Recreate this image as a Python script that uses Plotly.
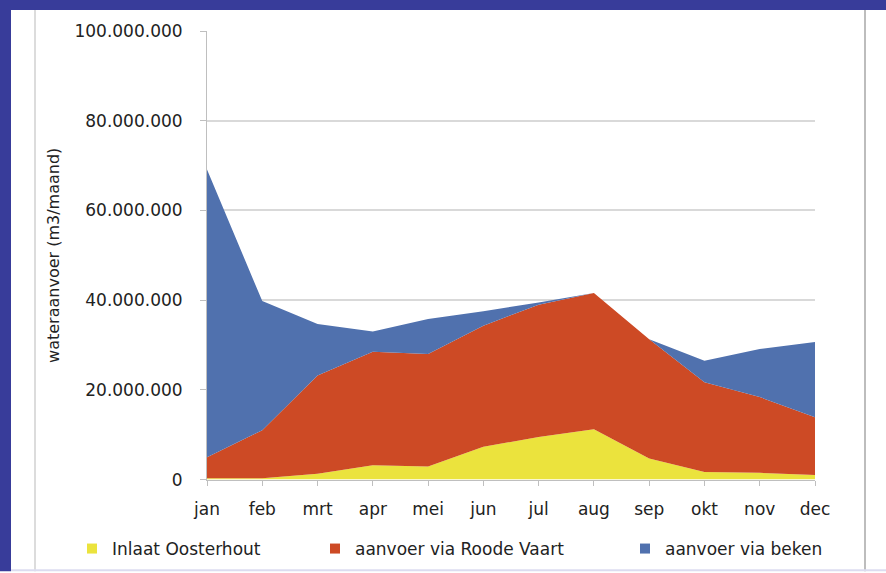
import plotly.graph_objects as go

months = ["jan", "feb", "mrt", "apr", "mei", "jun", "jul", "aug", "sep", "okt", "nov", "dec"]
inlaat_oosterhout = [300000, 300000, 1300000, 3200000, 2900000, 7300000, 9500000, 11200000, 4700000, 1700000, 1500000, 1000000]
roode_vaart = [4700000, 10700000, 21900000, 25300000, 25100000, 27000000, 29500000, 30400000, 26600000, 20000000, 16900000, 12900000]
beken = [64100000, 28800000, 11500000, 4500000, 7800000, 3200000, 500000, 0, 0, 4800000, 10700000, 16800000]
series_names = ["Inlaat Oosterhout", "aanvoer via Roode Vaart", "aanvoer via beken"]
y_ticks = [0, 20000000, 40000000, 60000000, 80000000, 100000000]

colors = ["#ebe33d", "#cd4a25", "#5071ae"]
W, H = 886, 573
ML, MR, MT, MB = 207, 71, 31, 92
PW, PH = W - ML - MR, H - MT - MB


def px(x):
    return (x - ML) / PW


def py(y):
    return (H - MB - y) / PH


fig = go.Figure()
for name, vals, col in zip(series_names, [inlaat_oosterhout, roode_vaart, beken], colors):
    fig.add_trace(go.Scatter(
        x=months, y=vals, name=name, stackgroup="one", mode="none",
        fillcolor=col, line=dict(width=0), showlegend=False,
    ))

legend_ids = ["legend", "legend2", "legend3"]
for name, col, lid in zip(series_names, colors, legend_ids):
    fig.add_trace(go.Scatter(
        x=[None], y=[None], name=name, mode="markers",
        marker=dict(symbol="square", size=10, color=col), legend=lid, showlegend=True,
    ))

font = dict(family="DejaVu Sans", size=17, color="#222222")
leg_common = dict(orientation="h", yanchor="middle", xanchor="left", font=font,
                  bgcolor="rgba(0,0,0,0)", itemwidth=30, xref="container", yref="container")
leg_y = (H - 549) / H

shapes = [
    # blue frame
    dict(type="rect", xref="paper", yref="paper", x0=px(0), x1=px(W), y0=py(0), y1=py(10),
         fillcolor="#383c9a", line=dict(width=0), layer="above"),
    dict(type="rect", xref="paper", yref="paper", x0=px(0), x1=px(11), y0=py(0), y1=py(H),
         fillcolor="#383c9a", line=dict(width=0), layer="above"),
    # chart border lines
    dict(type="line", xref="paper", yref="paper", x0=px(35), x1=px(35), y0=py(10), y1=py(H),
         line=dict(color="#d0d0d0", width=1.5)),
    dict(type="line", xref="paper", yref="paper", x0=px(865), x1=px(865), y0=py(10), y1=py(H),
         line=dict(color="#bdbdbd", width=2)),
    dict(type="line", xref="paper", yref="paper", x0=px(11), x1=px(W), y0=py(572), y1=py(572),
         line=dict(color="#dcdcf0", width=2)),
]

fig.update_layout(
    width=W, height=H, autosize=False,
    margin=dict(l=ML, r=MR, t=MT, b=MB),
    paper_bgcolor="white", plot_bgcolor="white",
    separators=",.",
    font=font,
    xaxis=dict(type="category", range=[0, 11], showgrid=False, showline=True,
               linecolor="#bfbfbf", linewidth=1, ticks="outside", ticklen=5,
               tickcolor="#bfbfbf", ticklabelstandoff=9, tickfont=font),
    yaxis=dict(range=[0, 100000000], tickvals=y_ticks, tickformat=",d",
               showgrid=True, gridcolor="#d9d9d9", gridwidth=1.5, showline=True,
               linecolor="#bfbfbf", ticks="outside", ticklen=6, tickcolor="#bfbfbf",
               ticklabelstandoff=14, tickfont=font, zeroline=False,
               title=dict(text="wateraanvoer (m3/maand)", standoff=10,
                          font=dict(family="DejaVu Sans", size=16, color="#222222"))),
    legend=dict(x=72 / W, y=leg_y, **leg_common),
    legend2=dict(x=315 / W, y=leg_y, **leg_common),
    legend3=dict(x=625 / W, y=leg_y, **leg_common),
    shapes=shapes,
)

fig.write_html("out.html")
